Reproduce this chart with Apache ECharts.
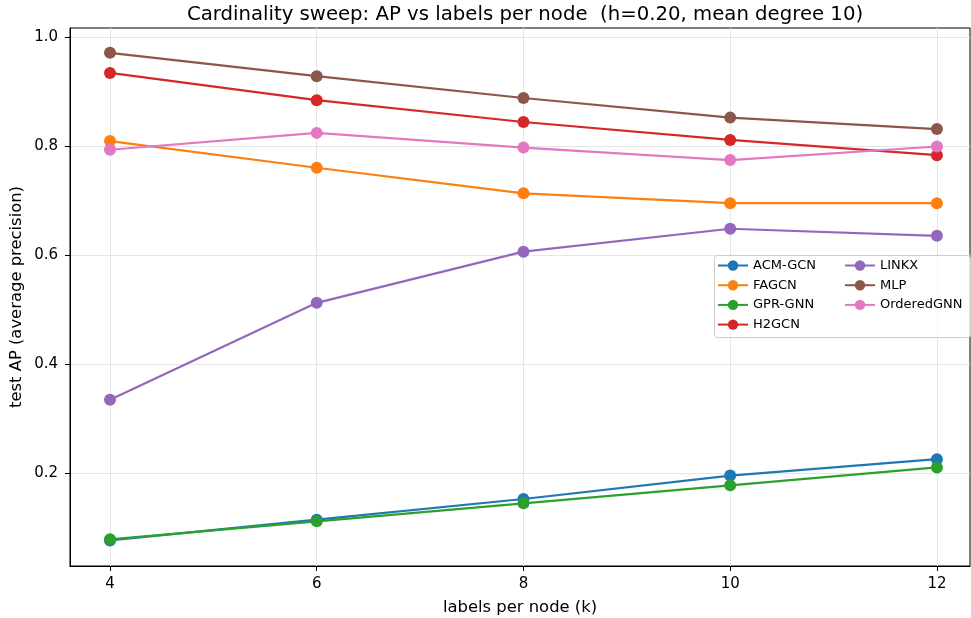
<!DOCTYPE html>
<html>
<head>
<meta charset="utf-8">
<script src="https://cdn.jsdelivr.net/npm/echarts@6/dist/echarts.min.js"></script>
<style>html,body{margin:0;padding:0;background:#fff}#c{width:971px;height:618px}</style>
</head>
<body>
<div id="c"></div>
<script>
const kValues = [4, 6, 8, 10, 12];
const xTicks = [4, 6, 8, 10, 12];
const yTicks = [0.2, 0.4, 0.6, 0.8, 1.0];
const seriesNames = ['ACM-GCN', 'FAGCN', 'GPR-GNN', 'H2GCN', 'LINKX', 'MLP', 'OrderedGNN'];
const acmGcn = [0.076, 0.114, 0.152, 0.195, 0.225];
const fagcn = [0.809, 0.760, 0.713, 0.695, 0.695];
const gprGnn = [0.078, 0.111, 0.144, 0.177, 0.210];
const h2gcn = [0.934, 0.884, 0.844, 0.811, 0.783];
const linkx = [0.334, 0.512, 0.606, 0.648, 0.635];
const mlp = [0.971, 0.928, 0.888, 0.852, 0.831];
const orderedGnn = [0.793, 0.824, 0.797, 0.774, 0.799];
const allValues = [acmGcn, fagcn, gprGnn, h2gcn, linkx, mlp, orderedGnn];
const colors = ['#1f77b4', '#ff7f0e', '#2ca02c', '#d62728', '#9467bd', '#8c564b', '#e377c2'];

const FONT = 'DejaVu Sans';
const chart = echarts.init(document.getElementById('c'), null, {renderer: 'canvas'});

const series = seriesNames.map((name, i) => ({
  name: name,
  type: 'line',
  data: kValues.map((k, j) => [k, allValues[i][j]]),
  symbol: 'circle',
  symbolSize: 12,
  showSymbol: true,
  lineStyle: {width: 2.2, color: colors[i]},
  itemStyle: {color: colors[i]},
  emphasis: {disabled: true},
  animation: false
}));

const legendCommon = {
  orient: 'vertical',
  itemWidth: 30,
  itemHeight: 13,
  itemGap: 6.7,
  itemTextGap: 11,
  padding: 0,
  z: 10,
  textStyle: {fontFamily: FONT, fontSize: 13, color: '#000'},
  selectedMode: false
};

chart.setOption({
  animation: false,
  color: colors,
  title: {
    text: 'Cardinality sweep: AP vs labels per node  (h=0.20, mean degree 10)',
    left: 520, top: 0, textAlign: 'center',
    textStyle: {fontFamily: FONT, fontSize: 19.7, fontWeight: 'normal', color: '#000'}
  },
  grid: {
    left: 70, right: 1, top: 28, bottom: 52,
    outerBoundsMode: 'none', containLabel: false,
    show: true, borderColor: '#000', borderWidth: 1, backgroundColor: 'transparent'
  },
  legend: [
    Object.assign({data: seriesNames.slice(0, 4), left: 717, top: 259}, legendCommon),
    Object.assign({data: seriesNames.slice(4), left: 844, top: 259}, legendCommon)
  ],
  graphic: [{
    type: 'rect',
    shape: {x: 714.5, y: 255.5, width: 256, height: 82, r: 3},
    style: {fill: 'rgba(255,255,255,0.8)', stroke: '#cccccc', lineWidth: 1},
    z: 3
  }],
  xAxis: {
    type: 'value',
    min: 3.613, max: 12.32,
    name: 'labels per node (k)',
    nameLocation: 'middle',
    nameGap: 34,
    nameMoveOverlap: false,
    nameTextStyle: {fontFamily: FONT, fontSize: 16.4, color: '#000'},
    axisLine: {show: true, lineStyle: {color: '#000', width: 1}},
    axisTick: {show: true, length: 5, lineStyle: {color: '#000'}, customValues: xTicks},
    axisLabel: {fontFamily: FONT, fontSize: 15, color: '#000', margin: 11, customValues: xTicks,
      formatter: v => String(v)},
    splitLine: {show: true, lineStyle: {color: '#e6e6e6', width: 1}}
  },
  yAxis: {
    type: 'value',
    min: 0.029, max: 1.0165,
    name: 'test AP (average precision)',
    nameLocation: 'middle',
    nameGap: 45,
    nameMoveOverlap: false,
    nameTextStyle: {fontFamily: FONT, fontSize: 16.4, color: '#000'},
    axisLine: {show: true, lineStyle: {color: '#000', width: 1}},
    axisTick: {show: true, length: 5, lineStyle: {color: '#000'}, customValues: yTicks},
    axisLabel: {fontFamily: FONT, fontSize: 15, color: '#000', margin: 12, customValues: yTicks,
      formatter: v => v.toFixed(1)},
    splitLine: {show: true, lineStyle: {color: '#e6e6e6', width: 1}}
  },
  series: series
});
</script>
</body>
</html>
